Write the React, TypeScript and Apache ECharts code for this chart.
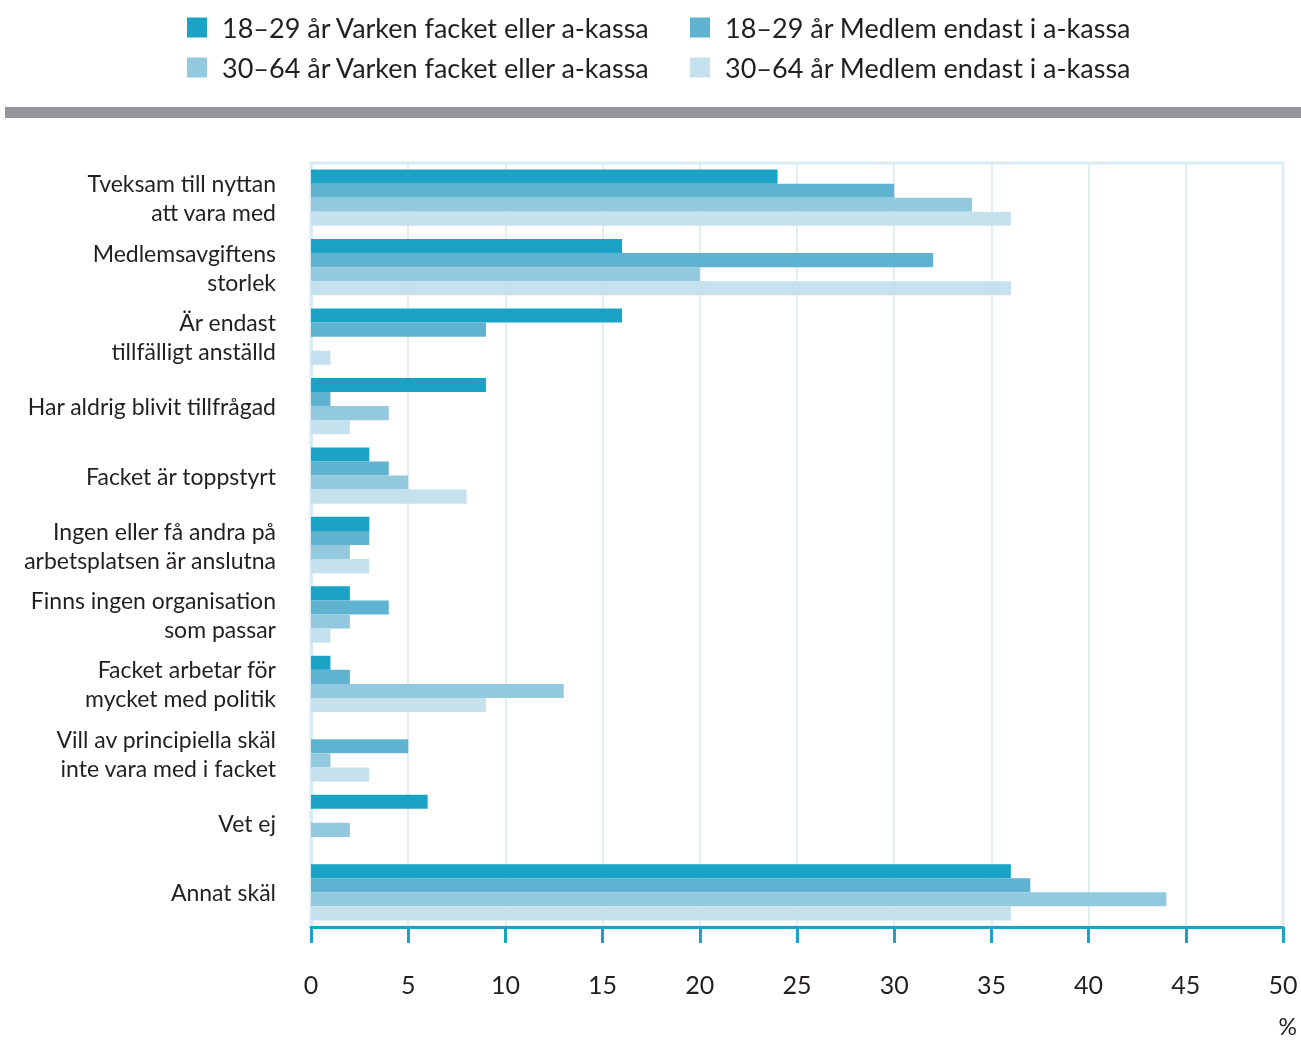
import React, { useEffect, useRef } from "react";
import * as echarts from "echarts";

const categories = [
  "Tveksam till nyttan\natt vara med",
  "Medlemsavgiftens\nstorlek",
  "Är endast\ntillfälligt anställd",
  "Har aldrig blivit tillfrågad",
  "Facket är toppstyrt",
  "Ingen eller få andra på\narbetsplatsen är anslutna",
  "Finns ingen organisation\nsom passar",
  "Facket arbetar för\nmycket med politik",
  "Vill av principiella skäl\ninte vara med i facket",
  "Vet ej",
  "Annat skäl",
];

const seriesNames = [
  "18–29 år Varken facket eller a-kassa",
  "18–29 år Medlem endast i a-kassa",
  "30–64 år Varken facket eller a-kassa",
  "30–64 år Medlem endast i a-kassa",
];

const young_none = [24, 16, 16, 9, 3, 3, 2, 1, 0, 6, 36];
const young_akassa = [30, 32, 9, 1, 4, 3, 4, 2, 5, 0, 37];
const old_none = [34, 20, 0, 4, 5, 2, 2, 13, 1, 2, 44];
const old_akassa = [36, 36, 1, 2, 8, 3, 1, 9, 3, 0, 36];

const xTicks = [0, 5, 10, 15, 20, 25, 30, 35, 40, 45, 50];

const colors = ["#1ba3c6", "#5fb3d1", "#93c9df", "#c5e1ed"];
const FONT = "Lato";

export default function App() {
  const ref = useRef<HTMLDivElement>(null);
  useEffect(() => {
    const chart = echarts.init(ref.current!, null, { renderer: "svg" });
    const values = [young_none, young_akassa, old_none, old_akassa];
    const legendPos = [
      { left: 187, top: 14 },
      { left: 690, top: 14 },
      { left: 187, top: 54 },
      { left: 690, top: 54 },
    ];
    chart.setOption({
      animation: false,
      textStyle: { fontFamily: FONT },
      legend: seriesNames.map((n, i) => ({
        data: [n],
        left: legendPos[i].left,
        top: legendPos[i].top,
        itemWidth: 20,
        itemHeight: 20,
        itemGap: 0,
        padding: 0,
        icon: "rect",
        selectedMode: false,
        textStyle: { fontSize: 27, color: "#231f20", fontFamily: FONT, padding: [0, 0, 0, 10] },
      })),
      graphic: [
        {
          type: "rect",
          left: 5,
          top: 107,
          shape: { width: 1296, height: 11 },
          style: { fill: "#939598" },
        },
        {
          type: "text",
          right: 4,
          top: 1014,
          style: { text: "%", fontSize: 23, fill: "#231f20", fontFamily: FONT },
        },
      ],
      grid: {
        left: 311,
        right: 18,
        top: 163,
        bottom: 116,
        show: true,
        borderColor: "#d9ecf3",
        borderWidth: 3,
        containLabel: false,
      },
      xAxis: {
        type: "value",
        min: 0,
        max: 50,
        interval: 5,
        axisLine: { show: true, lineStyle: { color: "#1ba3c6", width: 3 } },
        axisTick: { show: true, length: 16, lineStyle: { color: "#1ba3c6", width: 3 } },
        axisLabel: {
          fontSize: 25,
          color: "#231f20",
          margin: 44,
          fontFamily: FONT,
          formatter: (v: number) => (xTicks.includes(v) ? String(v) : ""),
        },
        splitLine: { show: true, lineStyle: { color: "#e1eff5", width: 2 } },
      },
      yAxis: {
        type: "category",
        data: categories,
        inverse: true,
        axisLine: { show: true, lineStyle: { color: "#d9ecf3", width: 3 } },
        axisTick: { show: false },
        axisLabel: {
          fontSize: 23,
          color: "#231f20",
          margin: 35,
          lineHeight: 29,
          align: "right",
          fontFamily: FONT,
        },
      },
      series: seriesNames.map((n, i) => ({
        name: n,
        type: "bar",
        data: values[i],
        barGap: "0%",
        barCategoryGap: "19%",
        itemStyle: { color: colors[i] },
      })),
    });
    return () => chart.dispose();
  }, []);
  return (
    <div
      ref={ref}
      style={{ position: "fixed", left: 0, top: 0, width: 1301, height: 1043 }}
    />
  );
}
